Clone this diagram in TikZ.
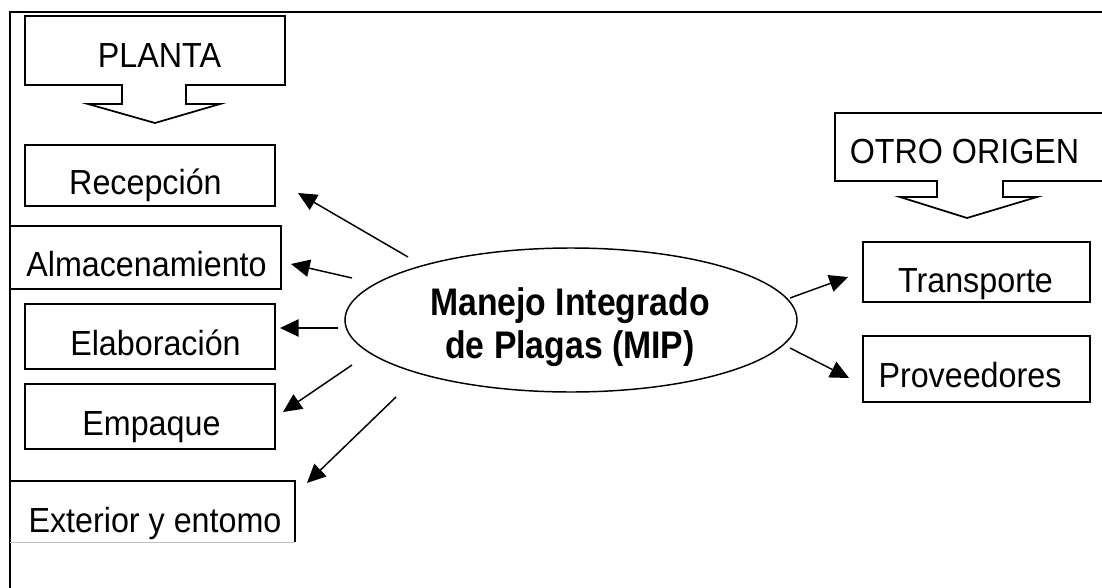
\documentclass[tikz,border=0pt]{standalone}
\usepackage{fontspec}
\setmainfont{Liberation Sans}
\usetikzlibrary{arrows.meta,shapes.geometric}
\newcommand\tall[1]{\scalebox{1}[1.08]{#1}}
\newcommand\tx[3]{\raisebox{#2}[0pt][0pt]{\hspace*{#1}\tall{#3}\hspace*{-#1}}}
\begin{document}
\begin{tikzpicture}[x=0.75pt,y=-0.75pt,
  box/.style={draw,line width=1.3pt,inner sep=0pt,font=\fontsize{24.2}{28}\selectfont},
  lbl/.style={inner sep=0pt,anchor=base,font=\fontsize{24.2}{28}\selectfont},
  blk/.style={draw,line width=1.3pt},
  arr/.style={line width=1.1pt,-{Triangle[length=14pt,width=13pt]}},
  mipst/.style={draw,ellipse,line width=1.1pt,inner sep=0pt,minimum width=339pt,minimum height=108pt},
  miptext/.style={inner sep=0pt,anchor=base,font=\fontsize{25.3}{30}\selectfont\bfseries}]
\useasboundingbox (0,0) rectangle (1102,588);
\fill[white] (0,0) rectangle (1102,588);
% frame
\draw[line width=1.4pt] (10,588) -- (10,12) -- (1102,12);
% PLANTA block arrow
\draw[blk] (25,16) -- (285,16) -- (285,85) -- (186,85) -- (186,104) -- (220,104) -- (155,123)
  -- (88,104) -- (122,104) -- (122,85) -- (25,85) -- cycle;
\node[lbl] (planta) at (159.5,68) {\tall{PLANTA}};
% OTRO ORIGEN block arrow
\draw[blk] (1110,113) -- (835,113) -- (835,181) -- (937,181) -- (937,197) -- (900,197) -- (967,218)
  -- (1037,197) -- (1003,197) -- (1003,181) -- (1110,181);
\node[lbl] (otro) at (964.5,163) {\tall{OTRO ORIGEN}};
% left boxes
\node[box,minimum width=187.5pt,minimum height=45.75pt] (rec) at (150,175.5) {\tx{-3.4pt}{-14.6pt}{Recepción}};
\node[box,minimum width=203.25pt,minimum height=47.25pt] (alm) at (145.5,257.5) {\tx{0.75pt}{-14.6pt}{Almacenamiento}};
\node[box,minimum width=187.5pt,minimum height=48.75pt] (ela) at (150,336.5) {\tx{4.1pt}{-13.9pt}{Elaboración}};
\node[box,minimum width=187.5pt,minimum height=48.75pt] (emp) at (150,416.5) {\tx{1.1pt}{-13.9pt}{Empaque}};
\node[lbl] (ext) at (155,532) {\tall{Exterior y entomo}};
\draw[line width=1.3pt] (10,542) -- (10,481) -- (295,481) -- (295,542);
\draw[line width=0.6pt,black!25] (10,542) -- (295,542);
% right boxes
\node[box,minimum width=170.25pt,minimum height=45pt] (tra) at (976.5,272) {\tx{-0.75pt}{-15pt}{Transporte}};
\node[box,minimum width=170.25pt,minimum height=49.5pt] (pro) at (976.5,369) {\tx{-4.9pt}{-13.5pt}{Proveedores}};
% central ellipse
\node[mipst] (mip) at (571,320) {};
\node[miptext] (mip1) at (570,315) {\scalebox{1}[1.14]{Manejo Integrado}};
\node[miptext] (mip2) at (570,358) {\scalebox{1}[1.14]{de Plagas (MIP)}};
% arrow end points
\coordinate (s1) at (408,257); \coordinate (t1) at (298,193);
\coordinate (s2) at (352,278); \coordinate (t2) at (291,264);
\coordinate (s3) at (338,328); \coordinate (t3) at (280,328);
\coordinate (s4) at (352,365); \coordinate (t4) at (283,412);
\coordinate (s5) at (396,397); \coordinate (t5) at (307,483);
\coordinate (s6) at (790,298); \coordinate (t6) at (848,277);
\coordinate (s7) at (790,348); \coordinate (t7) at (849,378);
\foreach \i in {1,...,7} {\draw[arr] (s\i) -- (t\i);}
\end{tikzpicture}
\end{document}
